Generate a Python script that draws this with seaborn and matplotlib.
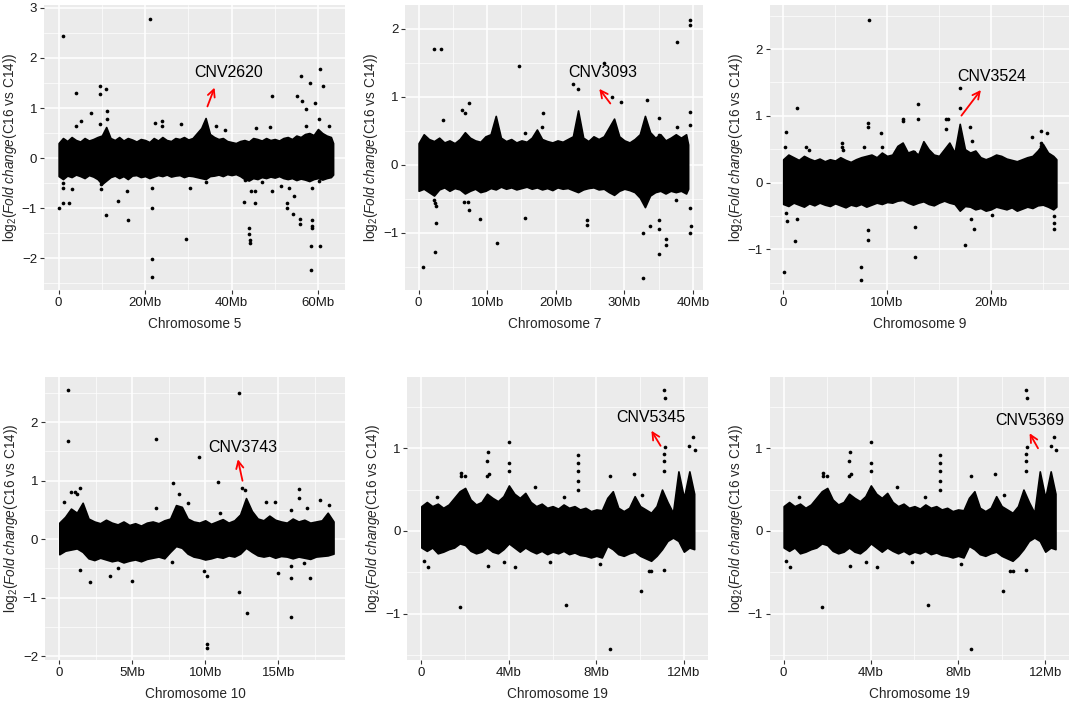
import matplotlib
matplotlib.use("Agg")
import matplotlib.pyplot as plt
import seaborn as sns
from matplotlib.ticker import MultipleLocator

# === data: dense band envelope (Mb, log2 FC) + scattered outlier points ===
chr5_env_pos = [0, 1, 2, 3, 4, 5, 6, 7, 8, 9, 10, 11, 12, 13, 14, 15, 16, 17, 18, 19, 20, 21, 22, 23, 24, 25,
                26, 27, 28, 29, 30, 31, 32, 33, 34, 35, 36, 37, 38, 39, 40, 41, 42, 43, 44, 45, 46, 47, 48, 49,
                50, 51, 52, 53, 54, 55, 56, 57, 58, 59, 60, 61, 62, 63, 63.5]
chr5_env_hi = [0.30, 0.40, 0.34, 0.42, 0.36, 0.33, 0.40, 0.35, 0.38, 0.42, 0.45, 0.62, 0.40, 0.36, 0.42, 0.35,
               0.40, 0.37, 0.33, 0.38, 0.36, 0.32, 0.40, 0.35, 0.42, 0.36, 0.34, 0.40, 0.38, 0.42, 0.37, 0.40,
               0.50, 0.60, 0.80, 0.48, 0.42, 0.38, 0.40, 0.34, 0.32, 0.30, 0.34, 0.36, 0.33, 0.40, 0.38, 0.35,
               0.40, 0.36, 0.38, 0.35, 0.40, 0.42, 0.38, 0.45, 0.42, 0.48, 0.50, 0.46, 0.58, 0.50, 0.45, 0.42,
               0.30]
chr5_env_lo = [-0.36, -0.42, -0.35, -0.38, -0.33, -0.36, -0.40, -0.34, -0.37, -0.42, -0.52, -0.45, -0.38,
               -0.35, -0.40, -0.36, -0.42, -0.35, -0.34, -0.38, -0.36, -0.40, -0.37, -0.34, -0.36, -0.33,
               -0.37, -0.35, -0.34, -0.38, -0.35, -0.36, -0.38, -0.40, -0.42, -0.36, -0.35, -0.33, -0.36,
               -0.32, -0.34, -0.32, -0.36, -0.42, -0.45, -0.40, -0.42, -0.38, -0.40, -0.37, -0.39, -0.36,
               -0.40, -0.42, -0.40, -0.44, -0.41, -0.43, -0.46, -0.42, -0.40, -0.43, -0.40, -0.38, -0.33]
chr5_pts_pos = [1.1, 21.1, 4.0, 9.6, 9.6, 11.0, 11.1, 11.1, 7.6, 5.2, 9.6, 4.0, 0.0, 1.1, 2.5, 0.9, 0.9, 3.1,
                9.8, 9.8, 11.0, 13.8, 16.1, 15.8, 21.5, 21.5, 21.5, 21.5, 22.2, 24.0, 24.0, 28.2, 29.5, 30.5,
                34.2, 36.5, 38.6, 43.2, 43.0, 44.0, 44.0, 44.2, 44.2, 44.4, 45.4, 45.4, 45.7, 47.1, 49.4, 48.8,
                49.4, 51.5, 52.8, 52.8, 53.2, 54.2, 54.5, 55.2, 55.9, 55.9, 56.1, 56.3, 57.2, 58.2, 58.6, 58.6,
                58.6, 58.6, 58.4, 58.4, 59.4, 60.2, 60.5, 60.5, 61.1, 62.6, 57.2, 60.2]
chr5_pts_val = [2.44, 2.77, 1.31, 1.44, 1.29, 1.38, 0.95, 0.78, 0.91, 0.75, 0.68, 0.64, -0.99, -0.90, -0.89,
                -0.59, -0.49, -0.61, -0.52, -0.62, -1.14, -0.86, -1.24, -0.65, -0.99, -2.01, -2.37, -0.59,
                0.71, 0.75, 0.65, 0.68, -1.61, -0.60, -0.48, 0.65, 0.56, -0.43, -0.87, -1.40, -1.52, -1.63,
                -1.69, -0.65, -0.65, -0.89, 0.61, -0.47, 1.25, 0.63, -0.65, -0.55, -0.89, -0.99, -0.59, -1.12,
                -0.75, 1.25, -1.22, -1.32, 1.63, 1.15, 0.98, 1.51, -0.59, -1.23, -1.35, -1.39, -1.75, -2.23,
                1.11, 0.78, -1.75, 1.77, 1.45, 0.65, 0.65, -0.45]

chr7_env_pos = [0, 0.75, 1.5, 2.25, 3, 3.75, 4.5, 5.25, 6, 6.75, 7.5, 8.25, 9, 9.75, 10.5, 11.25, 12, 12.75,
                13.5, 14.25, 15, 15.75, 16.5, 17.25, 18, 18.75, 19.5, 20.25, 21, 21.75, 22.5, 23.25, 24, 24.75,
                25.5, 26.25, 27, 27.75, 28.5, 29.25, 30, 30.75, 31.5, 32.25, 33, 33.75, 34.5, 35.25, 36, 36.75,
                37.5, 38.25, 39, 39.3]
chr7_env_hi = [0.32, 0.45, 0.38, 0.35, 0.40, 0.33, 0.36, 0.32, 0.38, 0.48, 0.40, 0.36, 0.34, 0.42, 0.45, 0.72,
               0.40, 0.35, 0.38, 0.33, 0.36, 0.34, 0.40, 0.52, 0.38, 0.35, 0.33, 0.36, 0.34, 0.38, 0.42, 0.80,
               0.40, 0.35, 0.42, 0.38, 0.42, 0.55, 0.68, 0.42, 0.36, 0.33, 0.38, 0.45, 0.72, 0.48, 0.40, 0.45,
               0.36, 0.40, 0.45, 0.40, 0.45, 0.30]
chr7_env_lo = [-0.38, -0.35, -0.40, -0.45, -0.36, -0.33, -0.38, -0.34, -0.36, -0.42, -0.38, -0.35, -0.40,
               -0.38, -0.34, -0.36, -0.32, -0.35, -0.33, -0.36, -0.34, -0.32, -0.35, -0.33, -0.36, -0.34,
               -0.37, -0.33, -0.35, -0.34, -0.37, -0.40, -0.36, -0.34, -0.33, -0.36, -0.35, -0.40, -0.44,
               -0.38, -0.35, -0.37, -0.40, -0.48, -0.62, -0.45, -0.40, -0.38, -0.42, -0.38, -0.40, -0.38,
               -0.42, -0.35]
chr7_pts_pos = [2.3, 3.3, 14.6, 22.5, 23.2, 27.0, 37.7, 39.6, 39.6, 39.6, 39.6, 39.6, 39.7, 39.6, 0.7, 2.4, 2.4,
                2.5, 2.6, 2.2, 3.5, 6.4, 6.7, 7.4, 6.6, 7.2, 7.4, 9.0, 11.4, 15.5, 18.2, 18.0, 15.5, 24.5, 24.6,
                29.5, 32.7, 32.7, 33.7, 33.3, 35.0, 35.0, 35.0, 35.0, 35.0, 36.1, 36.1, 37.7, 37.5, 28.2]
chr7_pts_val = [1.70, 1.70, 1.45, 1.19, 1.11, 1.49, 1.81, 2.13, 2.05, 0.77, 0.59, -0.64, -0.90, -1.00, -1.50,
                -1.28, -0.56, -0.61, -0.85, -0.51, 0.66, 0.81, 0.76, 0.91, -0.54, -0.54, -0.66, -0.80, -1.15,
                -0.78, 0.76, 0.56, 0.47, -0.88, -0.81, 0.93, -1.00, -1.66, -0.90, 0.96, 0.69, 0.44, -0.81,
                -0.94, -1.31, -1.09, -1.17, 0.56, -0.51, 1.00]

chr9_env_pos = [0, 0.5, 1, 1.5, 2, 2.5, 3, 3.5, 4, 4.5, 5, 5.5, 6, 6.5, 7, 7.5, 8, 8.5, 9, 9.5, 10, 10.5, 11,
                11.5, 12, 12.5, 13, 13.5, 14, 14.5, 15, 15.5, 16, 16.5, 17, 17.5, 18, 18.5, 19, 19.5, 20, 20.5,
                21, 21.5, 22, 22.5, 23, 23.5, 24, 24.5, 25, 25.5, 26, 26.3]
chr9_env_hi = [0.35, 0.42, 0.38, 0.34, 0.40, 0.36, 0.33, 0.36, 0.32, 0.35, 0.33, 0.38, 0.34, 0.31, 0.35, 0.38,
               0.40, 0.42, 0.38, 0.45, 0.40, 0.42, 0.55, 0.60, 0.45, 0.48, 0.42, 0.62, 0.50, 0.42, 0.40, 0.50,
               0.60, 0.45, 0.88, 0.50, 0.45, 0.48, 0.38, 0.35, 0.38, 0.42, 0.40, 0.36, 0.34, 0.32, 0.35, 0.38,
               0.40, 0.48, 0.58, 0.45, 0.40, 0.35]
chr9_env_lo = [-0.32, -0.35, -0.30, -0.33, -0.36, -0.31, -0.34, -0.30, -0.33, -0.35, -0.31, -0.34, -0.37,
               -0.33, -0.35, -0.32, -0.36, -0.33, -0.30, -0.32, -0.29, -0.30, -0.27, -0.26, -0.30, -0.33,
               -0.30, -0.28, -0.32, -0.34, -0.30, -0.27, -0.30, -0.32, -0.42, -0.35, -0.36, -0.40, -0.38,
               -0.42, -0.40, -0.36, -0.38, -0.40, -0.37, -0.42, -0.39, -0.36, -0.38, -0.34, -0.33, -0.36,
               -0.40, -0.36]
chr9_pts_pos = [8.3, 1.3, 0.3, 0.2, 8.2, 8.2, 9.4, 9.5, 11.5, 11.5, 13.0, 13.0, 17.0, 17.0, 15.7, 15.9, 15.7,
                18.0, 0.4, 0.3, 0.1, 1.1, 1.3, 5.7, 5.7, 5.8, 7.8, 7.5, 7.5, 8.2, 8.2, 12.7, 12.7, 17.5, 18.1,
                18.4, 20.1, 18.2, 24.0, 24.8, 25.4, 26.1, 26.1, 26.1, 24.8, 24.8, 2.2, 2.5, 12.6]
chr9_pts_val = [2.43, 1.12, 0.76, 0.54, 0.90, 0.84, 0.74, 0.54, 0.95, 0.92, 1.17, 0.95, 1.42, 1.12, 0.95,
                0.95, 0.80, 0.84, -0.57, -0.45, -1.34, -0.88, -0.54, 0.59, 0.54, 0.49, 0.53, -1.27, -1.46,
                -0.71, -0.86, -0.67, -1.12, -0.94, -0.55, -0.69, -0.49, 0.62, 0.68, 0.78, 0.74, -0.50, -0.60,
                -0.69, 0.60, 0.55, 0.53, 0.49, 0.46]

chr10_env_pos = [0, 0.4, 0.8, 1.2, 1.6, 2.0, 2.4, 2.8, 3.2, 3.6, 4.0, 4.4, 4.8, 5.2, 5.6, 6.0, 6.4, 6.8, 7.2,
                 7.6, 8.0, 8.4, 8.8, 9.2, 9.6, 10.0, 10.4, 10.8, 11.2, 11.6, 12.0, 12.4, 12.8, 13.2, 13.6, 14.0,
                 14.4, 14.8, 15.2, 15.6, 16.0, 16.4, 16.8, 17.2, 17.6, 18.0, 18.4, 18.8]
chr10_env_hi = [0.28, 0.38, 0.52, 0.45, 0.62, 0.35, 0.30, 0.27, 0.33, 0.28, 0.25, 0.30, 0.24, 0.27, 0.23, 0.28,
                0.30, 0.27, 0.32, 0.35, 0.58, 0.55, 0.35, 0.30, 0.28, 0.32, 0.26, 0.30, 0.34, 0.28, 0.32, 0.42,
                0.70, 0.48, 0.35, 0.32, 0.40, 0.33, 0.30, 0.28, 0.35, 0.30, 0.33, 0.28, 0.30, 0.32, 0.45, 0.30]
chr10_env_lo = [-0.26, -0.20, -0.18, -0.16, -0.22, -0.33, -0.36, -0.32, -0.35, -0.38, -0.36, -0.40, -0.37,
                -0.35, -0.38, -0.34, -0.32, -0.30, -0.33, -0.22, -0.12, -0.15, -0.25, -0.30, -0.32, -0.35,
                -0.33, -0.30, -0.32, -0.28, -0.30, -0.25, -0.15, -0.22, -0.28, -0.30, -0.28, -0.32, -0.29,
                -0.30, -0.33, -0.30, -0.32, -0.34, -0.30, -0.29, -0.28, -0.25]
chr10_pts_pos = [0.6, 0.6, 6.65, 9.6, 10.9, 12.3, 12.5, 12.7, 7.8, 8.2, 0.8, 1.1, 1.2, 1.4, 6.65, 8.8, 0.3,
                 11.0, 16.4, 16.4, 14.8, 14.2, 15.9, 17.0, 17.9, 18.5, 1.4, 2.1, 3.5, 5.0, 4.0, 7.7, 9.9, 10.1,
                 10.1, 10.1, 12.3, 12.9, 15.0, 15.9, 15.9, 17.2, 15.9, 16.8]
chr10_pts_val = [2.54, 1.67, 1.71, 1.40, 0.98, 2.50, 0.87, 0.83, 0.95, 0.77, 0.80, 0.80, 0.77, 0.87, 0.53,
                 0.62, 0.63, 0.44, 0.86, 0.70, 0.63, 0.63, 0.50, 0.53, 0.66, 0.58, -0.53, -0.73, -0.64, -0.71,
                 -0.50, -0.40, -0.55, -0.63, -1.79, -1.87, -0.90, -1.27, -0.58, -0.66, -1.33, -0.67, -0.46,
                 -0.41]

chr19_env_pos = [0, 0.25, 0.5, 0.75, 1, 1.25, 1.5, 1.75, 2, 2.25, 2.5, 2.75, 3, 3.25, 3.5, 3.75, 4, 4.25,
                 4.5, 4.75, 5, 5.25, 5.5, 5.75, 6, 6.25, 6.5, 6.75, 7, 7.25, 7.5, 7.75, 8, 8.25, 8.5, 8.75, 9,
                 9.25, 9.5, 9.75, 10, 10.25, 10.5, 10.75, 11, 11.25, 11.5, 11.75, 12, 12.25, 12.47]
chr19_env_hi = [0.30, 0.35, 0.30, 0.33, 0.28, 0.32, 0.40, 0.48, 0.52, 0.38, 0.32, 0.35, 0.45, 0.40, 0.36,
                0.42, 0.55, 0.45, 0.40, 0.46, 0.35, 0.30, 0.33, 0.28, 0.30, 0.27, 0.32, 0.28, 0.30, 0.26,
                0.28, 0.24, 0.26, 0.25, 0.40, 0.48, 0.28, 0.24, 0.28, 0.42, 0.30, 0.26, 0.22, 0.30, 0.50,
                0.35, 0.22, 0.72, 0.40, 0.72, 0.45]
chr19_env_lo = [-0.20, -0.24, -0.20, -0.27, -0.25, -0.22, -0.20, -0.15, -0.17, -0.24, -0.27, -0.25, -0.20,
                -0.25, -0.27, -0.22, -0.15, -0.20, -0.25, -0.20, -0.24, -0.27, -0.24, -0.28, -0.25, -0.27,
                -0.24, -0.28, -0.26, -0.29, -0.30, -0.32, -0.30, -0.32, -0.18, -0.22, -0.28, -0.30, -0.27,
                -0.25, -0.30, -0.33, -0.36, -0.30, -0.22, -0.12, -0.08, -0.12, -0.25, -0.20, -0.22]
chr19_pts_pos = [11.1, 11.15, 11.15, 11.1, 11.1, 11.1, 12.4, 12.25, 12.5, 4.0, 4.0, 4.0, 3.05, 3.0, 3.1, 3.0,
                 7.15, 7.15, 7.15, 7.15, 7.15, 1.75, 6.6, 8.6, 10.05, 11.1, 10.4, 10.5, 0.1, 0.3, 3.05, 4.3,
                 3.8, 1.8, 1.8, 2.0, 9.7, 10.1, 8.6, 5.2, 6.5, 0.7, 8.15, 5.9]
chr19_pts_val = [1.70, 1.61, 1.01, 0.93, 0.85, 0.73, 1.14, 1.03, 0.98, 1.07, 0.82, 0.72, 0.95, 0.85, 0.69,
                 0.66, 0.92, 0.82, 0.72, 0.60, 0.49, -0.92, -0.89, -1.42, -0.72, -0.47, -0.48, -0.48, -0.36,
                 -0.44, -0.42, -0.43, -0.38, 0.70, 0.67, 0.67, 0.69, 0.44, 0.67, 0.53, 0.41, 0.41, -0.40, -0.38]

# axis ticks / labels
chr5_xticks, chr5_xlabels = [0, 20, 40, 60], ["0", "20Mb", "40Mb", "60Mb"]
chr7_xticks, chr7_xlabels = [0, 10, 20, 30, 40], ["0", "10Mb", "20Mb", "30Mb", "40Mb"]
chr9_xticks, chr9_xlabels = [0, 10, 20], ["0", "10Mb", "20Mb"]
chr10_xticks, chr10_xlabels = [0, 5, 10, 15], ["0", "5Mb", "10Mb", "15Mb"]
chr19_xticks, chr19_xlabels = [0, 4, 8, 12], ["0", "4Mb", "8Mb", "12Mb"]

# === style ===
sns.set_theme(style="darkgrid", rc={
    "axes.facecolor": "#EBEBEB",
    "grid.color": "white",
    "axes.edgecolor": "none",
})
plt.rcParams["font.family"] = ["Liberation Sans", "DejaVu Sans"]
plt.rcParams["mathtext.fontset"] = "custom"
plt.rcParams["mathtext.rm"] = "Liberation Sans"
plt.rcParams["mathtext.it"] = "Liberation Sans:italic"

fig = plt.figure(figsize=(10.72, 7.06), dpi=100)

panels = [
    # rect, env, pts, xticks, xlabels, xlim, ylim, title, cnv label, text pos, arrow tail, arrow head
    ([0.041, 0.589, 0.281, 0.404], (chr5_env_pos, chr5_env_hi, chr5_env_lo), (chr5_pts_pos, chr5_pts_val),
     chr5_xticks, chr5_xlabels, (-3.4, 66.3), (-2.64, 3.06), "Chromosome 5",
     "CNV2620", (39.4, 1.70), (34.2, 0.98), (36.3, 1.46)),
    ([0.378, 0.589, 0.278, 0.404], (chr7_env_pos, chr7_env_hi, chr7_env_lo), (chr7_pts_pos, chr7_pts_val),
     chr7_xticks, chr7_xlabels, (-1.95, 41.5), (-1.84, 2.35), "Chromosome 7",
     "CNV3093", (26.9, 1.36), (28.2, 0.87), (26.1, 1.15)),
    ([0.718, 0.589, 0.279, 0.404], (chr9_env_pos, chr9_env_hi, chr9_env_lo), (chr9_pts_pos, chr9_pts_val),
     chr9_xticks, chr9_xlabels, (-1.3, 27.5), (-1.61, 2.66), "Chromosome 9",
     "CNV3524", (20.1, 1.59), (17.0, 0.97), (19.2, 1.42)),
    ([0.042, 0.065, 0.280, 0.401], (chr10_env_pos, chr10_env_hi, chr10_env_lo), (chr10_pts_pos, chr10_pts_val),
     chr10_xticks, chr10_xlabels, (-0.98, 19.6), (-2.07, 2.77), "Chromosome 10",
     "CNV3743", (12.6, 1.57), (12.6, 0.95), (12.2, 1.41)),
    ([0.380, 0.065, 0.280, 0.401], (chr19_env_pos, chr19_env_hi, chr19_env_lo), (chr19_pts_pos, chr19_pts_val),
     chr19_xticks, chr19_xlabels, (-0.64, 13.08), (-1.56, 1.86), "Chromosome 19",
     "CNV5345", (10.5, 1.37), (11.0, 1.0), (10.45, 1.24)),
    ([0.718, 0.065, 0.279, 0.401], (chr19_env_pos, chr19_env_hi, chr19_env_lo), (chr19_pts_pos, chr19_pts_val),
     chr19_xticks, chr19_xlabels, (-0.64, 13.08), (-1.56, 1.86), "Chromosome 19",
     "CNV5369", (11.3, 1.33), (11.73, 0.97), (11.22, 1.21)),
]

ylab = r"log$_2$($\mathit{Fold\ change}$(C16 vs C14))"

for rect, env, pts, xt, xl, xlim, ylim, xtitle, cnv, tpos, tail, head in panels:
    ax = fig.add_axes(rect)
    ax.fill_between(env[0], env[2], env[1], color="black", lw=1.2, edgecolor="black", zorder=2)
    sns.scatterplot(x=pts[0], y=pts[1], s=7, color="black", linewidth=0, ax=ax, zorder=3)
    ax.set_xlim(*xlim)
    ax.set_ylim(*ylim)
    ax.set_xticks(xt)
    ax.set_xticklabels(xl)
    ax.yaxis.set_major_locator(MultipleLocator(1))
    ax.yaxis.set_minor_locator(MultipleLocator(0.5))
    step = xt[1] - xt[0]
    ax.xaxis.set_minor_locator(MultipleLocator(step / 2))
    ax.grid(which="major", color="white", lw=1.1)
    ax.grid(which="minor", color="white", lw=0.5)
    ax.tick_params(which="major", length=3, width=0.8, color="#333333", labelsize=9.5,
                   labelcolor="#1a1a1a", pad=2, bottom=True, left=True)
    ax.tick_params(which="minor", length=0)
    ax.set_xlabel(xtitle, fontsize=9.8, labelpad=6)
    ax.set_ylabel(ylab, fontsize=9.8, labelpad=2)
    ax.text(tpos[0], tpos[1], cnv, ha="center", va="center", fontsize=11.5, color="black", zorder=5)
    ax.annotate("", xy=head, xytext=tail,
                arrowprops=dict(arrowstyle="->", color="red", lw=1.3, mutation_scale=13), zorder=5)

fig.savefig("out.png", dpi=100)
